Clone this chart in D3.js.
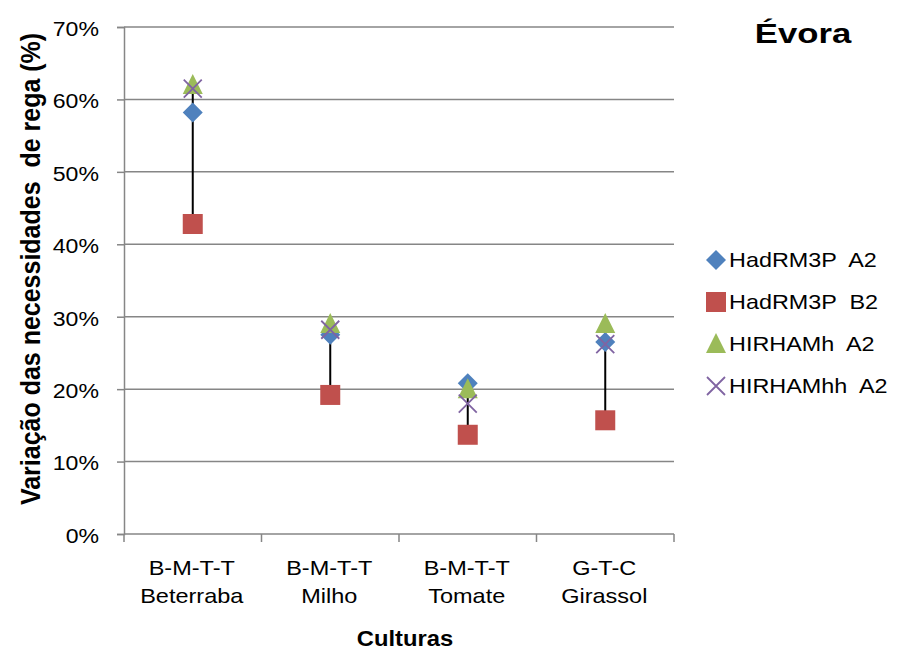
<!DOCTYPE html>
<html>
<head>
<meta charset="utf-8">
<script src="https://cdn.jsdelivr.net/npm/d3@7"></script>
<style>
  body { margin: 0; background: #fff; }
  svg text { font-family: "Liberation Sans", Arial, sans-serif; fill: #000; white-space: pre; }
</style>
</head>
<body>
<div id="chart"></div>
<script>
// data
const cropCodes = ["B-M-T-T", "B-M-T-T", "B-M-T-T", "G-T-C"];
const cropNames = ["Beterraba", "Milho", "Tomate", "Girassol"];
const seriesNames = ["HadRM3P  A2", "HadRM3P  B2", "HIRHAMh  A2", "HIRHAMhh  A2"];
const hadA2 = [58.2, 27.5, 20.8, 26.5];
const hadB2 = [42.8, 19.2, 13.7, 15.7];
const hirhA2 = [62.0, 29.0, 20.0, 29.0];
const hirhhA2 = [61.5, 28.2, 18.0, 26.2];
const yTicks = [0, 10, 20, 30, 40, 50, 60, 70];

const width = 904;
const height = 651;
const margin = { top: 27, right: 230, bottom: 117, left: 124 };

const svg = d3.select("#chart")
    .append("svg")
    .attr("width", width)
    .attr("height", height);

const x = d3.scaleBand()
    .domain(d3.range(cropNames.length))
    .range([margin.left, width - margin.right]);

const y = d3.scaleLinear()
    .domain([0, 70])
    .range([height - margin.bottom, margin.top]);

const series = [
  { name: seriesNames[0], values: hadA2, colour: "#4f81bd", shape: "diamond" },
  { name: seriesNames[1], values: hadB2, colour: "#c0504d", shape: "square" },
  { name: seriesNames[2], values: hirhA2, colour: "#9bbb59", shape: "triangle" },
  { name: seriesNames[3], values: hirhhA2, colour: "#8064a2", shape: "cross" }
];

// text in the reference is a bit wider than Liberation Sans, so stretch it
function addText(parent, tx, ty, str, size, sx, anchor, weight, rotate) {
  const g = parent.append("g")
      .attr("transform", `translate(${tx},${ty}) scale(${sx},1)` + (rotate ? " rotate(-90)" : ""));
  g.append("text")
   .attr("text-anchor", anchor || "start")
   .attr("font-size", size)
   .attr("font-weight", weight || "normal")
   .text(str);
  return g;
}

// gridlines
svg.append("g")
   .selectAll("line")
   .data(yTicks.filter(d => d > 0))
   .enter()
   .append("line")
   .attr("x1", margin.left)
   .attr("x2", width - margin.right)
   .attr("y1", d => y(d))
   .attr("y2", d => y(d))
   .attr("stroke", "#868686")
   .attr("stroke-width", 1.5);

// y axis
const yAxis = svg.append("g")
    .attr("transform", `translate(${margin.left},0)`)
    .call(d3.axisLeft(y).tickValues(yTicks).tickSize(7).tickFormat(d => d + "%"));
yAxis.select(".domain").attr("stroke", "#868686").attr("stroke-width", 1.5);
yAxis.selectAll(".tick line").attr("stroke", "#868686").attr("stroke-width", 1.5);
yAxis.selectAll(".tick text")
     .attr("x", 0)
     .attr("dy", "0.4em")
     .attr("font-size", 21)
     .attr("transform", "translate(-25,0) scale(1.1,1)")
     .style("font-family", "Liberation Sans, Arial, sans-serif");

// x axis with ticks between categories
const xAxis = svg.append("g");
xAxis.append("line")
     .attr("x1", margin.left)
     .attr("x2", width - margin.right)
     .attr("y1", y(0))
     .attr("y2", y(0))
     .attr("stroke", "#868686")
     .attr("stroke-width", 1.5);
xAxis.selectAll(".xtick")
     .data(d3.range(cropNames.length + 1))
     .enter()
     .append("line")
     .attr("class", "xtick")
     .attr("x1", i => margin.left + i * x.bandwidth())
     .attr("x2", i => margin.left + i * x.bandwidth())
     .attr("y1", y(0))
     .attr("y2", y(0) + 8)
     .attr("stroke", "#868686")
     .attr("stroke-width", 1.5);

cropNames.forEach((name, i) => {
  const cx = x(i) + x.bandwidth() / 2 - 1;
  addText(xAxis, cx, 575, cropCodes[i], 21, 1.12, "middle");
  addText(xAxis, cx, 603, name, 21, 1.12, "middle");
});

// high-low lines
svg.append("g")
   .selectAll("line")
   .data(cropNames)
   .enter()
   .append("line")
   .attr("x1", (d, i) => x(i) + x.bandwidth() / 2)
   .attr("x2", (d, i) => x(i) + x.bandwidth() / 2)
   .attr("y1", (d, i) => y(d3.max(series, s => s.values[i])))
   .attr("y2", (d, i) => y(d3.min(series, s => s.values[i])))
   .attr("stroke", "#000")
   .attr("stroke-width", 2);

function drawMarker(g, shape, colour, cx, cy) {
  if (shape === "diamond") {
    g.append("path")
     .attr("d", `M${cx},${cy - 10}L${cx + 10},${cy}L${cx},${cy + 10}L${cx - 10},${cy}Z`)
     .attr("fill", colour);
  } else if (shape === "square") {
    g.append("rect")
     .attr("x", cx - 10).attr("y", cy - 10)
     .attr("width", 20).attr("height", 20)
     .attr("fill", colour);
  } else if (shape === "triangle") {
    g.append("path")
     .attr("d", `M${cx},${cy - 11}L${cx + 10},${cy + 9}L${cx - 10},${cy + 9}Z`)
     .attr("fill", colour);
  } else {
    g.append("path")
     .attr("d", `M${cx - 9},${cy - 9}L${cx + 9},${cy + 9}M${cx + 9},${cy - 9}L${cx - 9},${cy + 9}`)
     .attr("stroke", colour)
     .attr("stroke-width", 1.8)
     .attr("fill", "none");
  }
}

// markers
const markers = svg.append("g");
series.forEach(s => {
  s.values.forEach((v, i) => {
    drawMarker(markers, s.shape, s.colour, x(i) + x.bandwidth() / 2, y(v));
  });
});

// legend
const legend = svg.append("g");
series.forEach((s, i) => {
  const cy = 260 + i * 42;
  drawMarker(legend, s.shape, s.colour, 716, cy);
  addText(legend, 729, cy + 7, s.name, 20, 1.17);
});

// titles
addText(svg, 803, 43, "Évora", 28, 1.24, "middle", "bold");
addText(svg, 405, 646, "Culturas", 22, 1.08, "middle", "bold");
addText(svg, 40, 269, "Variação das necessidades  de rega (%)", 25, 1.1, "middle", "bold", true);
</script>
</body>
</html>
